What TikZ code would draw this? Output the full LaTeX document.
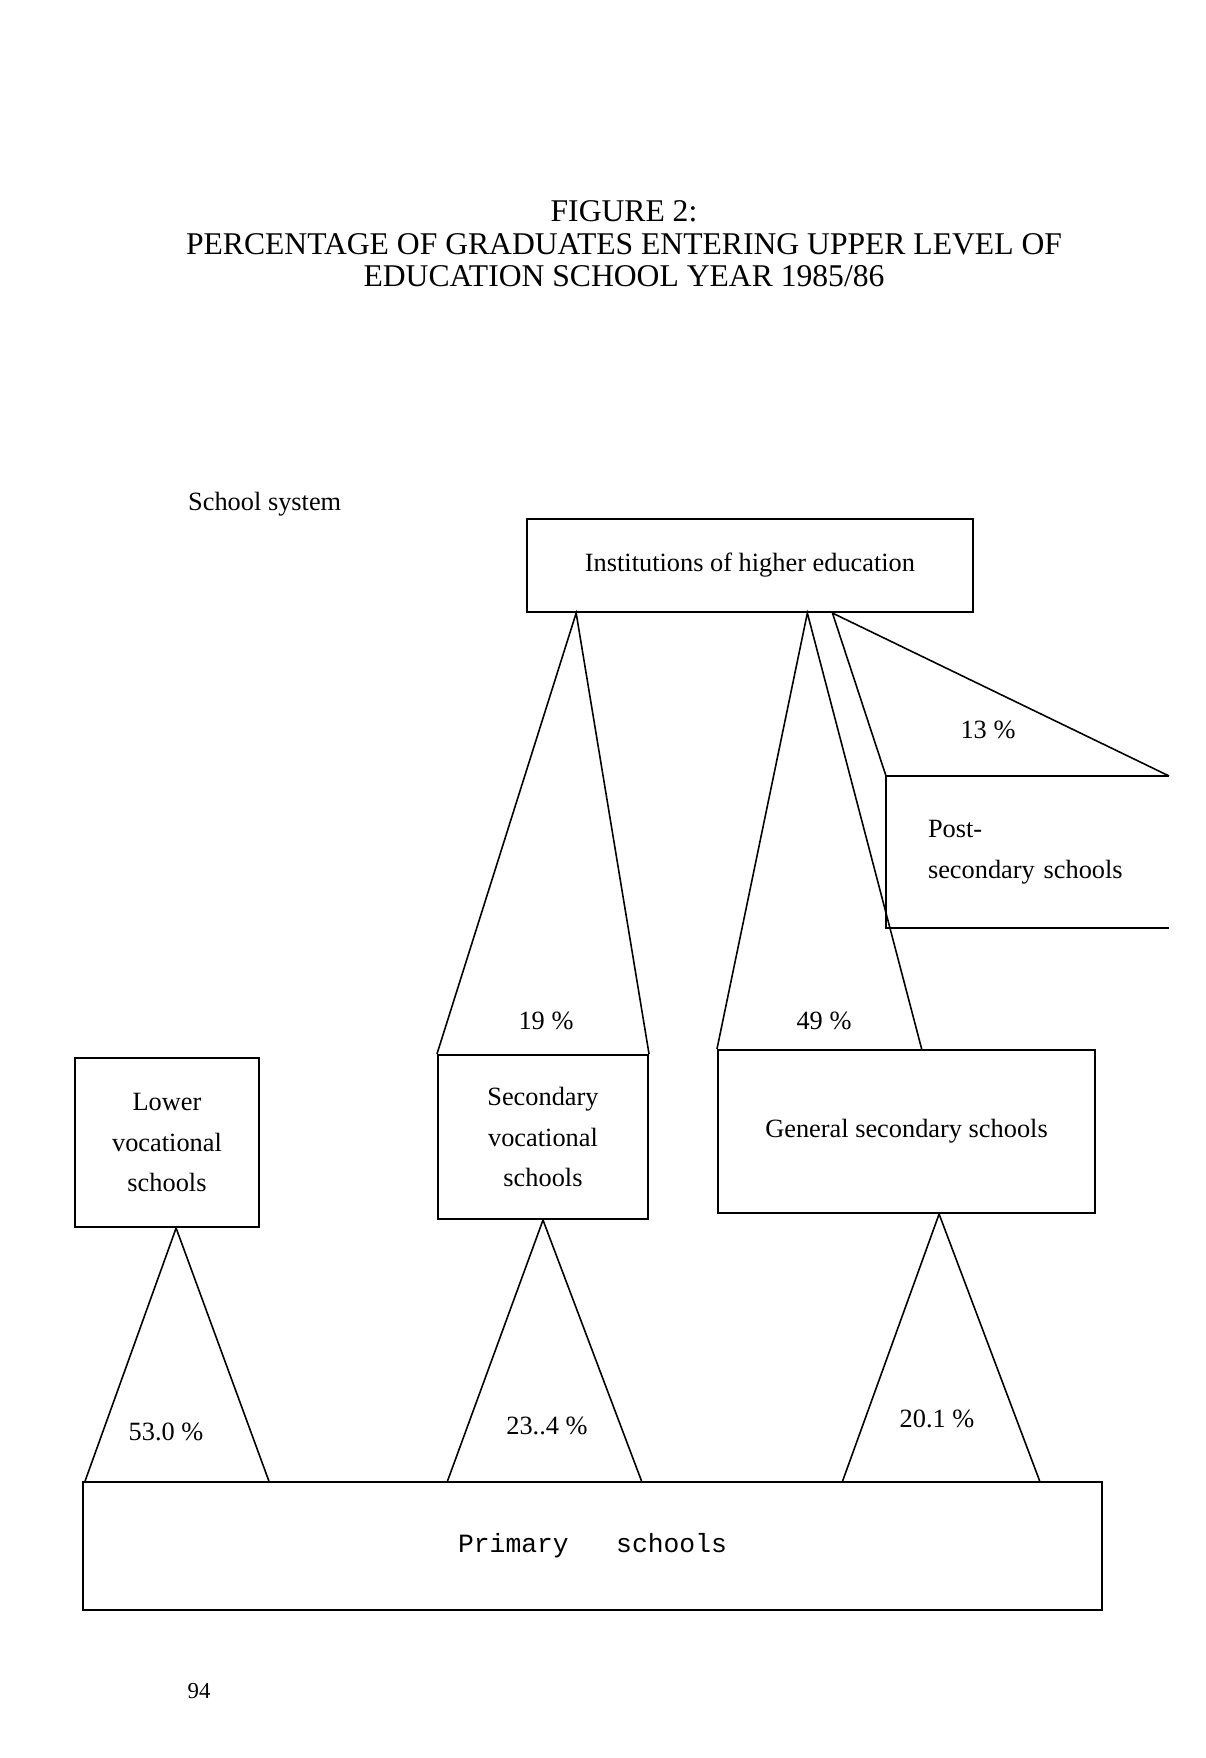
\documentclass[tikz,border=0pt]{standalone}
\usepackage{fontspec}
\setmainfont{Liberation Serif}
\newfontfamily\primfont{Liberation Mono}
\usetikzlibrary{calc}

\begin{document}
\begin{tikzpicture}[
    x=0.02cm, y=-0.02cm,
    box/.style={
        rectangle, draw, line width=1.2pt,
        align=center, font=\fontsize{15}{23}\selectfont
    },
    lbl/.style={font=\fontsize{15}{18}\selectfont},
    tri/.style={line width=0.9pt}
]
\useasboundingbox (0,0) rectangle (1206,1758);

\node[align=center, font=\fontsize{18}{18.5}\selectfont] (title) at (624,244)
    {FIGURE 2:\\PERCENTAGE OF GRADUATES ENTERING UPPER LEVEL OF\\EDUCATION SCHOOL YEAR 1985/86};
\node[lbl, anchor=west] (sys) at (182,504) {School system};

% boxes
\node[box, minimum width=8.92cm, minimum height=1.86cm] (inst) at (750,565.5) {Institutions of higher education};
\node[box, draw=none, align=left, text width=3.98cm, inner xsep=0.82cm, minimum height=3cm] (post) at (1027.5,852) {Post-\\secondary schools};
\node[box, minimum width=3.68cm, minimum height=3.38cm] (lvs) at (167,1142.5) {Lower\\vocational\\schools};
\node[box, minimum width=4.2cm, minimum height=3.28cm] (svs) at (543,1137) {Secondary\\vocational\\schools};
\node[box, minimum width=7.54cm, minimum height=3.26cm] (gss) at (906.5,1131.5) {General secondary schools};
\node[box, minimum width=20.38cm, minimum height=2.56cm, font=\primfont\fontsize{15}{18}\selectfont] (prim) at (592.5,1546) {Primary~~~schools};

\draw[line width=1.2pt] (post.north east) -- (post.north west) -- (post.south west) -- (post.south east);

% apexes on the upper boxes
\coordinate (a19) at ($(inst.south west)!0.112!(inst.south east)$);
\coordinate (a49) at ($(inst.south west)!0.628!(inst.south east)$);
\coordinate (a13) at ($(inst.south west)!0.684!(inst.south east)$);
\coordinate (a53) at ($(lvs.south west)!0.549!(lvs.south east)$);
\coordinate (a201) at ($(gss.south west)!0.586!(gss.south east)$);

% triangles
\draw[tri] (svs.north west) -- (a19) -- (svs.north east);
\draw[tri] (gss.north west) -- (a49) -- ($(gss.north west)!0.54!(gss.north east)$);
\draw[tri] (post.north west) -- (a13) -- (post.north east);
\draw[tri] ($(prim.north west)!0.003!(prim.north east)$) -- (a53) -- ($(prim.north west)!0.183!(prim.north east)$);
\draw[tri] ($(prim.north west)!0.358!(prim.north east)$) -- (svs.south) -- ($(prim.north west)!0.548!(prim.north east)$);
\draw[tri] ($(prim.north west)!0.745!(prim.north east)$) -- (a201) -- ($(prim.north west)!0.938!(prim.north east)$);

\node[lbl] (p13) at (988,730) {13 \%};
\node[lbl] (p19) at (546,1021) {19 \%};
\node[lbl] (p49) at (824,1021) {49 \%};
\node[lbl] (p53) at (166,1432) {53.0 \%};
\node[lbl] (p234) at (547,1426) {23..4 \%};
\node[lbl] (p201) at (937,1419) {20.1 \%};

\node[font=\fontsize{13}{15}\selectfont] (page) at (199,1691) {94};
\end{tikzpicture}
\end{document}
